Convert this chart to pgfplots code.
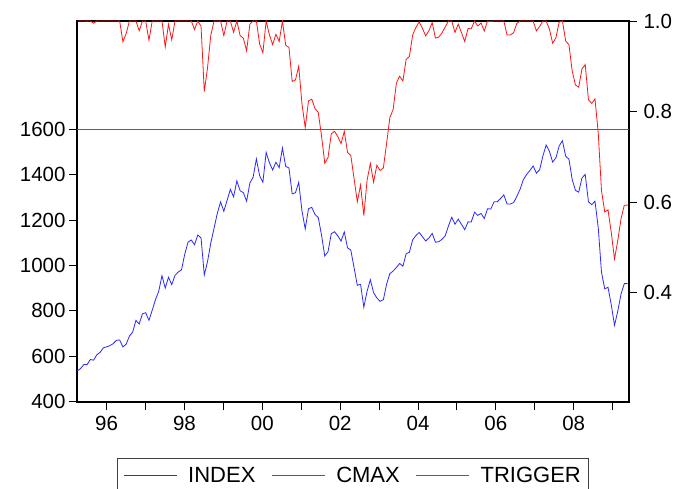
\documentclass[border=0pt]{standalone}
\usepackage{fontspec}
\setmainfont{Liberation Sans}
\usepackage{pgfplots}
\usepackage{pgfplotstable}
\pgfplotsset{compat=1.18}
\definecolor{ixblue}{RGB}{40,40,255}
\definecolor{cmred}{RGB}{255,20,20}
\definecolor{trgreen}{RGB}{30,140,30}

\pgfplotstableread{
x idx cmax
0 533.40 1.0000
1 544.75 1.0000
2 562.06 1.0000
3 561.88 0.9997
4 584.41 1.0000
5 581.50 0.9950
6 605.37 1.0000
7 615.93 1.0000
8 636.02 1.0000
9 640.43 1.0000
10 645.50 1.0000
11 654.17 1.0000
12 669.12 1.0000
13 670.63 1.0000
14 639.95 0.9543
15 651.99 0.9722
16 687.31 1.0000
17 705.27 1.0000
18 757.02 1.0000
19 740.74 0.9785
20 786.16 1.0000
21 790.82 1.0000
22 757.12 0.9574
23 801.34 1.0000
24 848.28 1.0000
25 885.14 1.0000
26 954.31 1.0000
27 899.47 0.9425
28 947.28 0.9926
29 914.62 0.9584
30 955.40 1.0000
31 970.43 1.0000
32 980.28 1.0000
33 1049.34 1.0000
34 1101.75 1.0000
35 1111.75 1.0000
36 1090.82 0.9812
37 1133.84 1.0000
38 1120.67 0.9884
39 957.28 0.8443
40 1017.01 0.8970
41 1098.67 0.9690
42 1163.63 1.0000
43 1229.23 1.0000
44 1279.64 1.0000
45 1238.33 0.9677
46 1286.37 1.0000
47 1335.18 1.0000
48 1301.84 0.9750
49 1372.71 1.0000
50 1328.72 0.9680
51 1320.41 0.9619
52 1282.71 0.9344
53 1362.93 0.9929
54 1388.91 1.0000
55 1469.25 1.0000
56 1394.46 0.9491
57 1366.42 0.9300
58 1498.58 1.0000
59 1452.43 0.9692
60 1420.60 0.9480
61 1454.60 0.9707
62 1430.83 0.9548
63 1517.68 1.0000
64 1436.51 0.9465
65 1429.40 0.9418
66 1314.95 0.8664
67 1320.28 0.8699
68 1366.01 0.9001
69 1239.94 0.8170
70 1160.33 0.7645
71 1249.46 0.8233
72 1255.82 0.8275
73 1224.42 0.8068
74 1211.23 0.7981
75 1133.58 0.7469
76 1040.94 0.6859
77 1059.78 0.6983
78 1139.45 0.7508
79 1148.08 0.7565
80 1130.20 0.7447
81 1106.73 0.7292
82 1147.39 0.7560
83 1076.92 0.7096
84 1067.14 0.7031
85 989.82 0.6522
86 911.62 0.6007
87 916.07 0.6377
88 815.28 0.5704
89 885.76 0.6484
90 936.31 0.6854
91 879.82 0.6441
92 855.70 0.6814
93 841.15 0.6698
94 848.18 0.6754
95 916.92 0.7301
96 963.59 0.7870
97 974.50 0.8046
98 990.31 0.8626
99 1008.01 0.8780
100 995.97 0.8675
101 1050.71 0.9152
102 1058.20 0.9217
103 1111.92 0.9691
104 1131.13 0.9858
105 1144.94 0.9979
106 1126.21 0.9836
107 1107.30 0.9671
108 1120.68 0.9788
109 1140.84 0.9964
110 1101.72 0.9623
111 1104.24 0.9645
112 1114.58 0.9735
113 1130.20 0.9871
114 1173.82 1.0000
115 1211.92 1.0000
116 1181.27 0.9747
117 1203.60 0.9931
118 1180.59 0.9741
119 1156.85 0.9546
120 1191.50 0.9832
121 1191.33 0.9830
122 1234.18 1.0000
123 1220.33 0.9888
124 1228.81 0.9956
125 1207.01 0.9780
126 1249.48 1.0000
127 1248.29 0.9990
128 1280.08 1.0000
129 1280.66 1.0000
130 1294.87 1.0000
131 1310.61 1.0000
132 1270.09 0.9691
133 1270.20 0.9692
134 1276.66 0.9741
135 1303.82 0.9948
136 1335.85 1.0000
137 1377.94 1.0000
138 1400.63 1.0000
139 1418.30 1.0000
140 1438.24 1.0000
141 1406.82 0.9782
142 1420.86 0.9879
143 1482.37 1.0000
144 1530.62 1.0000
145 1503.35 0.9822
146 1455.27 0.9508
147 1473.99 0.9630
148 1526.75 0.9975
149 1549.38 1.0000
150 1481.14 0.9560
151 1468.36 0.9477
152 1378.55 0.8897
153 1330.63 0.8588
154 1322.70 0.8537
155 1385.59 0.8943
156 1400.38 0.9038
157 1280.00 0.8261
158 1267.38 0.8180
159 1282.83 0.8280
160 1166.36 0.7528
161 968.75 0.6252
162 896.24 0.5784
163 903.25 0.5830
164 825.88 0.5330
165 735.09 0.4744
166 797.87 0.5150
167 872.81 0.5633
168 919.14 0.5932
169 919.32 0.5934
}\datatable

\begin{document}
\begin{tikzpicture}
\pgfplotsset{
  common/.style={
    scale only axis, width=552pt, height=381pt,
    xmin=-0.1, xmax=169.45,
    tick align=outside, major tick length=8pt,
    axis line style={line width=1.2pt},
    tick style={line width=0.9pt, black},
    ticklabel style={font=\fontsize{20.5}{24}\selectfont},
    /pgf/number format/assume math mode=true,
    /pgf/number format/1000 sep={},
  }
}
\begin{axis}[
  common,
  ymin=396.9, ymax=2077.8,
  ytick={400,600,800,1000,1200,1400,1600},
  xtick={9,20.955,32.91,44.865,56.82,68.775,80.73,92.685,104.64,116.595,128.55,140.505,152.46,164.415},
  xticklabels={96,,98,,00,,02,,04,,06,,08,},
  xticklabel style={yshift=-3pt},
  xtick pos=bottom, ytick pos=left,
]
\addplot[ixblue, line width=0.8pt] table[x=x,y=idx]{\datatable};
\end{axis}
\begin{axis}[
  common,
  ymin=0.1586, ymax=1.0,
  axis x line=none, axis y line*=right,
  ytick={0.4,0.6,0.8,1.0},
  yticklabel style={xshift=3pt, /pgf/number format/.cd, fixed, fixed zerofill, precision=1},
  legend columns=3,
  legend style={at={(0.0725,-0.147)}, anchor=north west, draw=black!75, line width=0.8pt,
    inner xsep=6pt, inner ysep=7pt,
    font=\fontsize{22}{26}\selectfont,
    /tikz/every odd column/.append style={column sep=9pt},
    /tikz/every even column/.append style={column sep=14pt}},
  legend image code/.code={\draw[mark repeat=2,mark phase=2] plot coordinates {(0pt,0pt) (53pt,0pt)};},
]
\addlegendimage{ixblue, line width=0.8pt}
\addlegendentry{INDEX}
\addplot[cmred, line width=0.8pt] table[x=x,y=cmax]{\datatable};
\addlegendentry{CMAX}
\addplot[trgreen, line width=0.8pt] coordinates {(-0.1,0.761) (169.45,0.761)};
\addlegendentry{TRIGGER}
\end{axis}
\pgfresetboundingbox
\useasboundingbox (-77pt,-86pt) rectangle (600pt,402pt);
\end{tikzpicture}
\end{document}
